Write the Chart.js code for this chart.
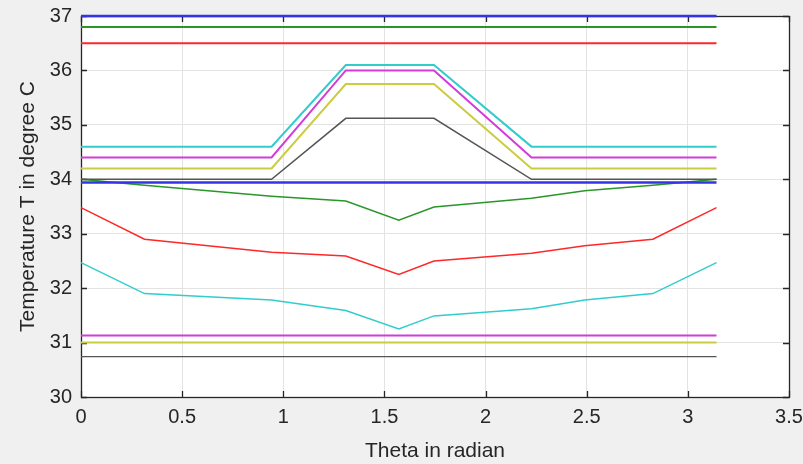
<!DOCTYPE html>
<html>
<head>
<meta charset="utf-8">
<script src="https://cdn.jsdelivr.net/npm/chart.js@4.4.1/dist/chart.umd.min.js"></script>
<style>
  html, body { margin: 0; padding: 0; background: #f0f0f0; }
  canvas { display: block; }
</style>
</head>
<body>
<canvas id="tempChart" width="803" height="464"></canvas>
<script>
// theta samples (radian)
const thetaFlat = [0, 3.1416];
const thetaTrap = [0, 0.942, 1.309, 1.745, 2.227, 3.1416];
const thetaCurve = [0, 0.314, 0.942, 1.309, 1.571, 1.745, 2.227, 2.49, 2.827, 3.1416];

// temperatures in degree C
const topBlue = [37.0, 37.0];
const topGreen = [36.8, 36.8];
const topRed = [36.5, 36.5];
const trapCyan = [34.6, 34.6, 36.1, 36.1, 34.6, 34.6];
const trapMagenta = [34.4, 34.4, 36.0, 36.0, 34.4, 34.4];
const trapYellow = [34.2, 34.2, 35.75, 35.75, 34.2, 34.2];
const trapBlack = [34.0, 34.0, 35.12, 35.12, 34.0, 34.0];
const midBlue = [33.94, 33.94];
const curveGreen = [34.0, 33.89, 33.69, 33.6, 33.25, 33.49, 33.65, 33.79, 33.89, 34.0];
const curveRed = [33.48, 32.9, 32.66, 32.59, 32.25, 32.5, 32.64, 32.78, 32.9, 33.48];
const curveCyan = [32.47, 31.9, 31.78, 31.59, 31.25, 31.49, 31.62, 31.78, 31.9, 32.47];
const lowMagenta = [31.13, 31.13];
const lowYellow = [31.0, 31.0];
const lowBlack = [30.74, 30.74];

const xTicks = [0, 0.5, 1, 1.5, 2, 2.5, 3, 3.5];
const yTicks = [30, 31, 32, 33, 34, 35, 36, 37];

const colors = {
  blue: "#3434e6",
  green: "#2a962a",
  red: "#ff2828",
  cyan: "#33cccc",
  magenta: "#d23cd8",
  yellow: "#cccc40",
  black: "#555555",
};

function series(xs, ys, color, width) {
  return {
    data: xs.map((x, i) => ({ x, y: ys[i] })),
    borderColor: color,
    borderWidth: width,
    pointRadius: 0,
    showLine: true,
    tension: 0,
    clip: 4,
  };
}

const datasets = [
  series(thetaFlat, topBlue, colors.blue, 2.5),
  series(thetaFlat, topGreen, colors.green, 2),
  series(thetaFlat, topRed, colors.red, 2),
  series(thetaTrap, trapCyan, colors.cyan, 2),
  series(thetaTrap, trapMagenta, colors.magenta, 2),
  series(thetaTrap, trapYellow, colors.yellow, 2),
  series(thetaTrap, trapBlack, colors.black, 1.5),
  series(thetaFlat, midBlue, colors.blue, 2.5),
  series(thetaCurve, curveGreen, colors.green, 1.5),
  series(thetaCurve, curveRed, colors.red, 1.5),
  series(thetaCurve, curveCyan, colors.cyan, 1.5),
  series(thetaFlat, lowMagenta, colors.magenta, 2),
  series(thetaFlat, lowYellow, colors.yellow, 2),
  series(thetaFlat, lowBlack, colors.black, 1.2),
];

// white plot area, plus MATLAB-style box and inward ticks (under the lines)
const axesBox = {
  id: "axesBox",
  beforeDraw(chart) {
    const { ctx, chartArea: a } = chart;
    ctx.save();
    ctx.fillStyle = "#ffffff";
    ctx.fillRect(a.left, a.top, a.right - a.left, a.bottom - a.top);
    ctx.restore();
  },
  beforeDatasetsDraw(chart) {
    const { ctx, chartArea: a, scales } = chart;
    ctx.save();
    ctx.strokeStyle = "#262626";
    ctx.lineWidth = 1.3;
    ctx.strokeRect(a.left + 0.5, a.top + 0.5, a.right - a.left, a.bottom - a.top);
    ctx.beginPath();
    xTicks.forEach((v) => {
      const px = Math.round(scales.x.getPixelForValue(v)) + 0.5;
      ctx.moveTo(px, a.bottom);
      ctx.lineTo(px, a.bottom - 6);
      ctx.moveTo(px, a.top);
      ctx.lineTo(px, a.top + 6);
    });
    yTicks.forEach((v) => {
      const py = Math.round(scales.y.getPixelForValue(v)) + 0.5;
      ctx.moveTo(a.left, py);
      ctx.lineTo(a.left + 6, py);
      ctx.moveTo(a.right, py);
      ctx.lineTo(a.right - 6, py);
    });
    ctx.stroke();
    ctx.restore();
  },
};

Chart.defaults.font.family = "'Liberation Sans', Arial, sans-serif";
Chart.defaults.color = "#262626";

new Chart(document.getElementById("tempChart"), {
  type: "scatter",
  data: { datasets },
  options: {
    responsive: false,
    animation: false,
    devicePixelRatio: 1,
    layout: { padding: { top: 16, right: 14, left: 0, bottom: 0 } },
    plugins: {
      legend: { display: false },
      tooltip: { enabled: false },
    },
    scales: {
      x: {
        type: "linear",
        min: 0,
        max: 3.5,
        afterBuildTicks(scale) {
          scale.ticks = xTicks.map((value) => ({ value }));
        },
        afterFit(scale) {
          scale.height = 67;
          scale.paddingLeft = 0;
          scale.paddingRight = 0;
        },
        ticks: { padding: 8, font: { size: 20 }, callback: (v) => String(v) },
        grid: { color: "#e3e3e3", drawTicks: false },
        border: { display: false },
        title: { display: true, text: "Theta in radian", font: { size: 21 }, padding: { top: 0, bottom: 0 } },
      },
      y: {
        type: "linear",
        min: 30,
        max: 37,
        afterBuildTicks(scale) {
          scale.ticks = yTicks.map((value) => ({ value }));
        },
        afterFit(scale) {
          scale.width = 81;
          scale.paddingTop = 0;
          scale.paddingBottom = 0;
        },
        ticks: { padding: 9, font: { size: 20 } },
        grid: { color: "#e3e3e3", drawTicks: false },
        border: { display: false },
        title: { display: true, text: "Temperature T in degree C", font: { size: 21 }, padding: { top: 16, bottom: 0 } },
      },
    },
  },
  plugins: [axesBox],
});
</script>
</body>
</html>
